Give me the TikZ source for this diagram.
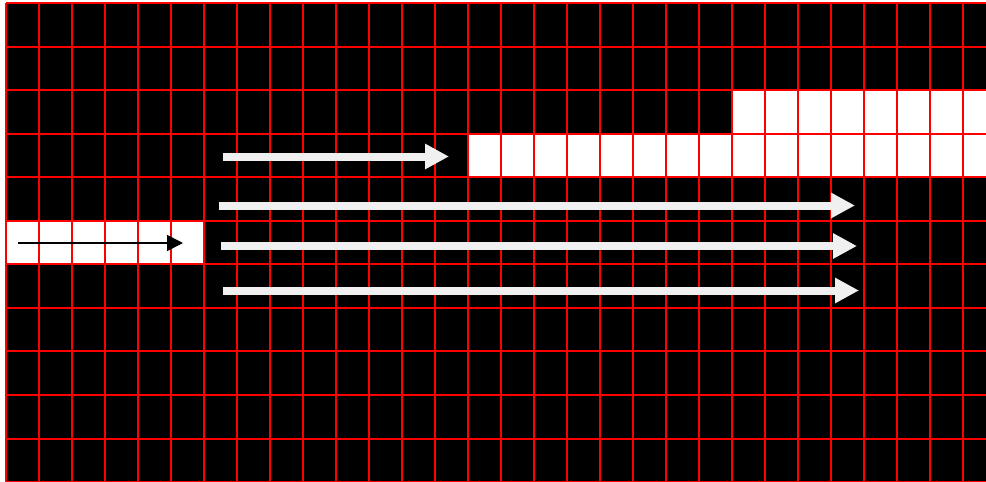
\documentclass[tikz,border=0pt]{standalone}
\usetikzlibrary{arrows.meta}

\definecolor{pale}{RGB}{240,240,240}
\tikzset{
  gridline/.style={red, line width=2pt},
  bigarrow/.style={pale, line width=8pt, -{Triangle[length=24pt,width=24pt]}},
  smallarrow/.style={black, line width=1.8pt, -{Triangle[length=16pt,width=16pt]}}
}

\begin{document}
\begin{tikzpicture}[x=1pt, y=-1pt]
        \useasboundingbox (0,0) rectangle (986,482);
        \clip (0,0) rectangle (986,482);

        % Background
        \fill[black] (6,3) rectangle (986,482);

        % White cells
        \fill[white] (6,220.8) rectangle (204,264.3);
        \fill[white] (468,133.6) rectangle (986,177);
        \fill[white] (732,90) rectangle (986,133.6);

        % Grid
        \foreach \i in {0,...,29}
            \draw[gridline] (6+33*\i,3) -- (6+33*\i,482);
        \foreach \j in {0,...,11}
            \draw[gridline] (6,3+43.55*\j) -- (986,3+43.55*\j);

        % Input arrow
        \coordinate (in_start) at (18,243);
        \coordinate (in_end) at (183,243);
        \draw[smallarrow] (in_start) -- (in_end);

        % Shift arrows
        \coordinate (up_start) at (223,156.5);
        \coordinate (up_end) at (449,156.5);
        \coordinate (r1_start) at (219,205.5);
        \coordinate (r1_end) at (855,205.5);
        \coordinate (r2_start) at (221,246);
        \coordinate (r2_end) at (857,246);
        \coordinate (r3_start) at (223,290.5);
        \coordinate (r3_end) at (859,290.5);

        \draw[bigarrow] (up_start) -- (up_end);
        \draw[bigarrow] (r1_start) -- (r1_end);
        \draw[bigarrow] (r2_start) -- (r2_end);
        \draw[bigarrow] (r3_start) -- (r3_end);
    \end{tikzpicture}
\end{document}
